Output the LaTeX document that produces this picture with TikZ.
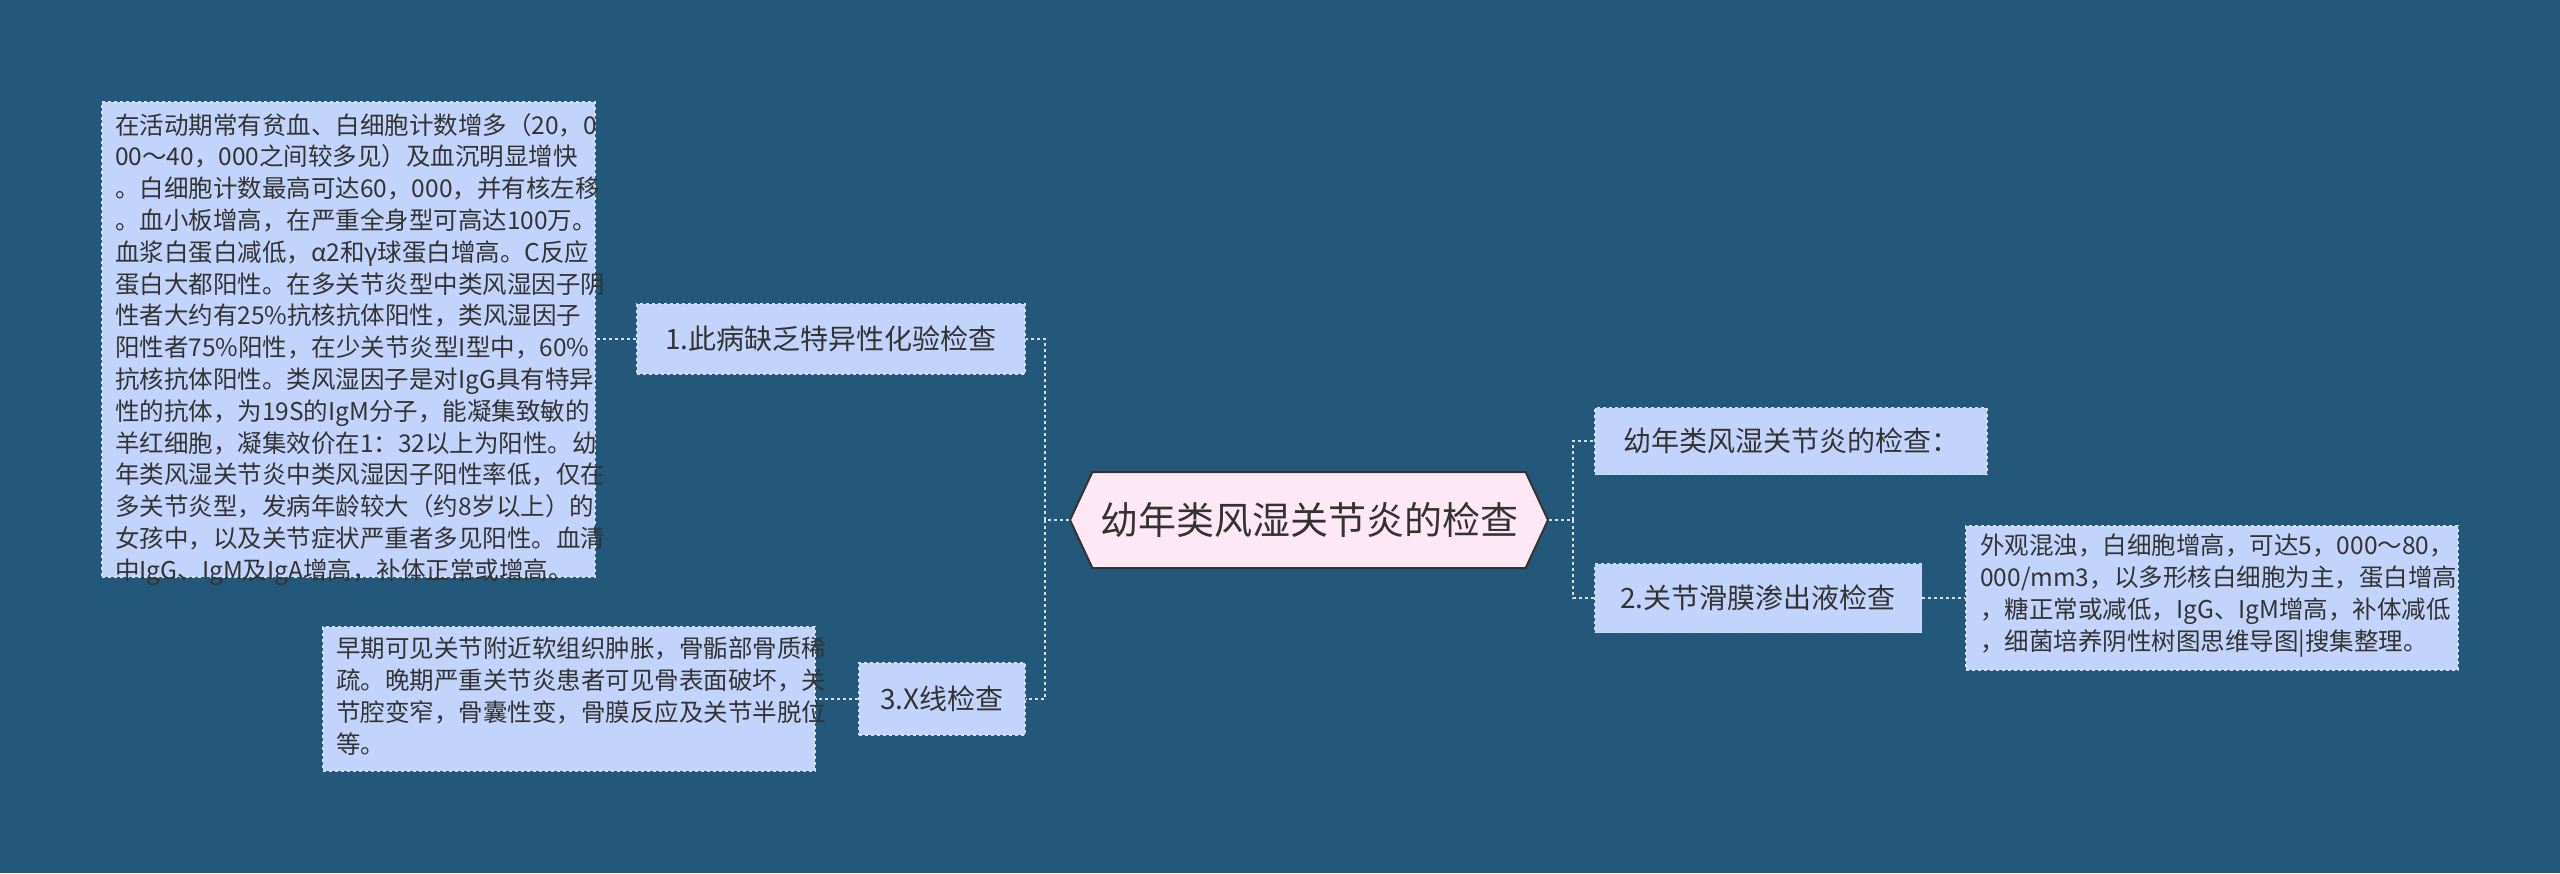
\documentclass[tikz,border=0pt]{standalone}
\usepackage{fontspec}
\setmainfont{Noto Sans CJK SC}
\usetikzlibrary{shapes.geometric,shapes.symbols}
\definecolor{bg}{HTML}{23587A}
\definecolor{nfill}{HTML}{C3D4FC}
\definecolor{cfill}{HTML}{FFE8F6}
\definecolor{txt}{HTML}{333333}
\definecolor{ln}{HTML}{D8E0EA}
\begin{document}
\begin{tikzpicture}[x=1pt,y=-1pt,
  box/.style={draw=ln,dashed,line width=1.5pt,fill=nfill,text=txt,inner sep=0pt,anchor=north west},
  conn/.style={draw=ln,dashed,line width=2pt}]
\fill[bg] (0,0) rectangle (2560,873);
\useasboundingbox (0,0) rectangle (2560,873);
\node[box,minimum width=493pt,minimum height=475pt] (big) at (101,101) {};
\node[anchor=north west,text=txt,font=\fontsize{24.5}{31.8}\selectfont,align=left,inner sep=0pt] at (115,113) {在活动期常有贫血、白细胞计数增多（20，0\\00～40，000之间较多见）及血沉明显增快\\。白细胞计数最高可达60，000，并有核左移\\。血小板增高，在严重全身型可高达100万。\\血浆白蛋白减低，α2和γ球蛋白增高。C反应\\蛋白大都阳性。在多关节炎型中类风湿因子阴\\性者大约有25\%抗核抗体阳性，类风湿因子\\阳性者75\%阳性，在少关节炎型I型中，60\%\\抗核抗体阳性。类风湿因子是对IgG具有特异\\性的抗体，为19S的IgM分子，能凝集致敏的\\羊红细胞，凝集效价在1：32以上为阳性。幼\\年类风湿关节炎中类风湿因子阳性率低，仅在\\多关节炎型，发病年龄较大（约8岁以上）的\\女孩中，以及关节症状严重者多见阳性。血清\\中IgG、IgM及IgA增高，补体正常或增高。};
\node[box,minimum width=388pt,minimum height=70pt,anchor=center,font=\fontsize{28}{32}\selectfont] (n1) at (831,339) {1.此病缺乏特异性化验检查};
\node[draw=txt,line width=2pt,fill=cfill,text=txt,shape=signal,signal to=east and west,signal pointer angle=130,minimum width=478pt,minimum height=96pt,inner sep=0pt,font=\fontsize{38}{42}\selectfont] (c) at (1309,520) {幼年类风湿关节炎的检查};
\node[box,minimum width=392pt,minimum height=67pt,anchor=center,font=\fontsize{28}{32}\selectfont] (r1) at (1791,441) {幼年类风湿关节炎的检查：};
\node[box,minimum width=327pt,minimum height=69pt,anchor=center,font=\fontsize{28}{32}\selectfont] (r2) at (1758,598) {2.关节滑膜渗出液检查};
\node[box,minimum width=492pt,minimum height=144pt,anchor=center] (rb) at (2212,598) {};
\node[anchor=north west,text=txt,font=\fontsize{24.5}{31.8}\selectfont,align=left,inner sep=0pt] at (1980,534) {外观混浊，白细胞增高，可达5，000～80，\\000/mm3，以多形核白细胞为主，蛋白增高\\，糖正常或减低，IgG、IgM增高，补体减低\\，细菌培养阴性树图思维导图|搜集整理。};
\node[box,minimum width=166pt,minimum height=72pt,anchor=center,font=\fontsize{28}{32}\selectfont] (n3) at (942,699) {3.X线检查};
\node[box,minimum width=492pt,minimum height=144pt,anchor=center] (lb) at (569,699) {};
\node[anchor=north west,text=txt,font=\fontsize{24.5}{31.8}\selectfont,align=left,inner sep=0pt] at (336,637) {早期可见关节附近软组织肿胀，骨骺部骨质稀\\疏。晚期严重关节炎患者可见骨表面破坏，关\\节腔变窄，骨囊性变，骨膜反应及关节半脱位\\等。};
\coordinate (tl) at (1045,520);
\coordinate (tr) at (1573,520);
\draw[conn] (c.west) -- (tl);
\draw[conn] (tl) |- (n1.east);
\draw[conn] (tl) |- (n3.east);
\draw[conn] (c.east) -- (tr);
\draw[conn] (tr) |- (r1.west);
\draw[conn] (tr) |- (r2.west);
\draw[conn] (n1.west) -- (big.east |- n1.west);
\draw[conn] (n3.west) -- (lb.east);
\draw[conn] (r2.east) -- (rb.west);
\end{tikzpicture}
\end{document}
